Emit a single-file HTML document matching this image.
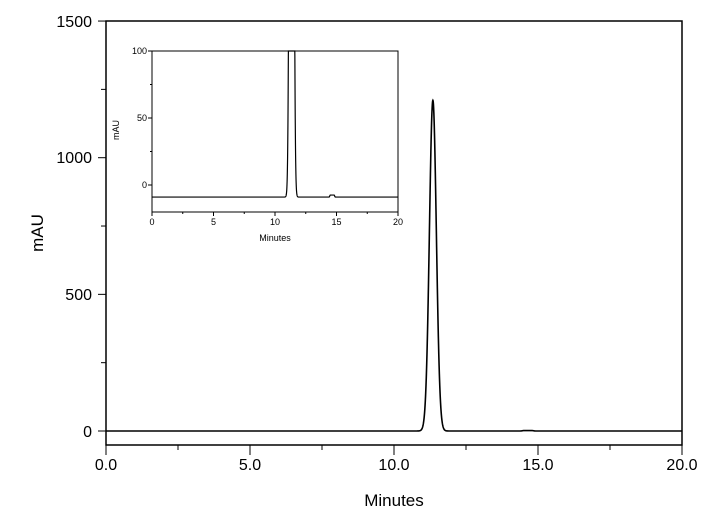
<!DOCTYPE html>
<html><head><style>body{margin:0;background:#fff}svg{display:block}text{font-family:"Liberation Sans",Arial,sans-serif;fill:#000}</style></head>
<body>
<svg id="s" width="713" height="517" viewBox="0 0 713 517" xmlns="http://www.w3.org/2000/svg">
<rect x="106" y="21" width="576" height="424" fill="none" stroke="#000" stroke-width="1.5"/>
<g id="mt" stroke="#000" stroke-width="1"></g>
<g font-size="16" text-anchor="middle">
<text x="106" y="470">0.0</text><text x="250" y="470">5.0</text><text x="394" y="470">10.0</text><text x="538" y="470">15.0</text><text x="682" y="470">20.0</text>
<text x="394" y="506" font-size="17">Minutes</text>
</g>
<g font-size="16" text-anchor="end">
<text x="92" y="437">0</text><text x="92" y="300">500</text><text x="92" y="163">1000</text><text x="92" y="27">1500</text>
</g>
<text transform="translate(43,233) rotate(-90)" font-size="17" text-anchor="middle">mAU</text>
<polyline id="mp" fill="none" stroke="#000" stroke-width="1.6"/>
<rect x="152" y="51" width="246" height="161" fill="#fff" stroke="#000" stroke-width="1"/>
<g id="it" stroke="#000" stroke-width="1"></g>
<polyline id="ip" fill="none" stroke="#000" stroke-width="1.2"/>
<g font-size="9" text-anchor="middle">
<text x="152" y="225">0</text><text x="213.5" y="225">5</text><text x="275" y="225">10</text><text x="336.5" y="225">15</text><text x="398" y="225">20</text>
<text x="275" y="241">Minutes</text>
</g>
<g font-size="9" text-anchor="end">
<text x="147" y="188">0</text><text x="147" y="121">50</text><text x="147" y="54">100</text>
</g>
<text transform="translate(119,130) rotate(-90)" font-size="9" text-anchor="middle">mAU</text>
</svg>
<script>
function f(t){var b=(t>14.4&&t<14.9)?Math.exp(-Math.pow(Math.max(0,Math.abs(t-14.65)-0.15)/0.06,2)):0;
return 1210*Math.exp(-Math.pow(t-11.35,2)/(2*0.12*0.12))+1.5*Math.exp(-Math.pow(t-14.6,2)/(2*0.2*0.2))*0+1.5*b;}
var m=[],i=[];
for(var k=0;k<=4000;k++){var t=k*0.005;
 m.push((106+t*28.8).toFixed(2)+","+(431-f(t)*0.2733).toFixed(2));
 var y=f(t)-9; var py=185-y*1.34; if(py<51)py=51;
 i.push((152+t*12.3).toFixed(2)+","+py.toFixed(2));}
document.getElementById('mp').setAttribute('points',m.join(' '));
document.getElementById('ip').setAttribute('points',i.join(' '));
var g=document.getElementById('mt'),h='';
for(var k=0;k<=8;k++){var x=106+k*72;h+='<line x1="'+x+'" y1="445" x2="'+x+'" y2="'+(k%2?450:455)+'"/>';}
for(var k=0;k<=6;k++){var y=431-k*250*0.2733;h+='<line x1="106" y1="'+y+'" x2="'+(k%2?101:98)+'" y2="'+y+'"/>';}
g.innerHTML=h;
var g2=document.getElementById('it'),h2='';
for(var k=0;k<=8;k++){var x=152+k*30.75;h2+='<line x1="'+x+'" y1="212" x2="'+x+'" y2="'+(k%2?214:216)+'"/>';}
for(var k=0;k<=4;k++){var y=185-k*25*1.34;h2+='<line x1="152" y1="'+y+'" x2="'+(k%2?150:148)+'" y2="'+y+'"/>';}
g2.innerHTML=h2;
</script>
</body></html>
